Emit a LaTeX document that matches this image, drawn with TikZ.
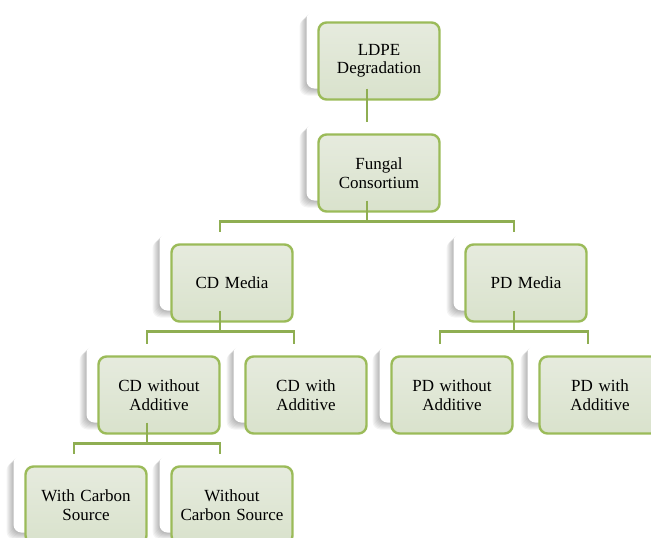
\documentclass[tikz,border=0pt]{standalone}
\usepackage{fontspec}
\setmainfont{Liberation Serif}
\usetikzlibrary{shadows}
\definecolor{bordergreen}{HTML}{9BBB59}
\definecolor{linegreen}{HTML}{8FAE52}
\definecolor{filltop}{HTML}{E6EBDE}
\definecolor{fillbot}{HTML}{D9E2CC}
\tikzset{
  sh/.style={general shadow={shadow xshift=-#1, shadow yshift=-#1, fill=black, opacity=0.045}},
  backbox/.style={rectangle, rounded corners=8pt, minimum width=121pt, minimum height=77pt,
    inner sep=0pt, fill=white,
    sh=1pt, sh=2pt, sh=3pt, sh=4pt, sh=5pt, sh=6pt, sh=7pt},
  frontbox/.style={rectangle, rounded corners=8pt, minimum width=121pt, minimum height=77pt,
    inner sep=0pt, draw=bordergreen, line width=2.4pt, top color=filltop, bottom color=fillbot,
    align=center, text width=118pt, font=\fontsize{17}{18.5}\selectfont},
  conn/.style={draw=linegreen, line width=2.8pt},
}
\begin{document}
\begin{tikzpicture}[x=1pt,y=-1pt]
\useasboundingbox (0,0) rectangle (651,538);
% back boxes
\node[backbox] (ldpe) at (367,50) {};
\node[backbox] (fungal) at (367,162) {};
\node[backbox] (cdm) at (220,272) {};
\node[backbox] (pdm) at (514,272) {};
\node[backbox] (cdwo) at (147,384) {};
\node[backbox] (cdw) at (294,384) {};
\node[backbox] (pdwo) at (440,384) {};
\node[backbox] (pdw) at (588,384) {};
\node[backbox] (wcs) at (74,494) {};
\node[backbox] (wocs) at (220,494) {};
% front boxes
\node[frontbox] (ldpef) at ([xshift=12pt,yshift=-11pt]ldpe.center) {LDPE\\Degradation};
\node[frontbox] (fungalf) at ([xshift=12pt,yshift=-11pt]fungal.center) {Fungal\\Consortium};
\node[frontbox] (cdmf) at ([xshift=12pt,yshift=-11pt]cdm.center) {CD Media};
\node[frontbox] (pdmf) at ([xshift=12pt,yshift=-11pt]pdm.center) {PD Media};
\node[frontbox] (cdwof) at ([xshift=12pt,yshift=-11pt]cdwo.center) {CD without\\Additive};
\node[frontbox] (cdwf) at ([xshift=12pt,yshift=-11pt]cdw.center) {CD with\\Additive};
\node[frontbox] (pdwof) at ([xshift=12pt,yshift=-11pt]pdwo.center) {PD without\\Additive};
\node[frontbox] (pdwf) at ([xshift=12pt,yshift=-11pt]pdw.center) {PD with\\Additive};
\node[frontbox] (wcsf) at ([xshift=12pt,yshift=-11pt]wcs.center) {With Carbon\\Source};
\node[frontbox] (wocsf) at ([xshift=12pt,yshift=-11pt]wocs.center) {Without\\Carbon Source};
% connectors
\draw[conn, shorten >=1.5pt] (ldpe.south) -- (fungal.north);
\draw[conn] (fungal.south) -- ++(0,21) coordinate (j1);
\draw[conn, shorten >=1.5pt] (j1) -| (cdm.north);
\draw[conn, shorten >=1.5pt] (j1) -| (pdm.north);
\draw[conn] (cdm.south) -- ++(0,21) coordinate (j2);
\draw[conn, shorten >=1.5pt] (j2) -| (cdwo.north);
\draw[conn, shorten >=1.5pt] (j2) -| (cdw.north);
\draw[conn] (pdm.south) -- ++(0,21) coordinate (j3);
\draw[conn, shorten >=1.5pt] (j3) -| (pdwo.north);
\draw[conn, shorten >=1.5pt] (j3) -| (pdw.north);
\draw[conn] (cdwo.south) -- ++(0,21) coordinate (j4);
\draw[conn, shorten >=1.5pt] (j4) -| (wcs.north);
\draw[conn, shorten >=1.5pt] (j4) -| (wocs.north);
\end{tikzpicture}
\end{document}
